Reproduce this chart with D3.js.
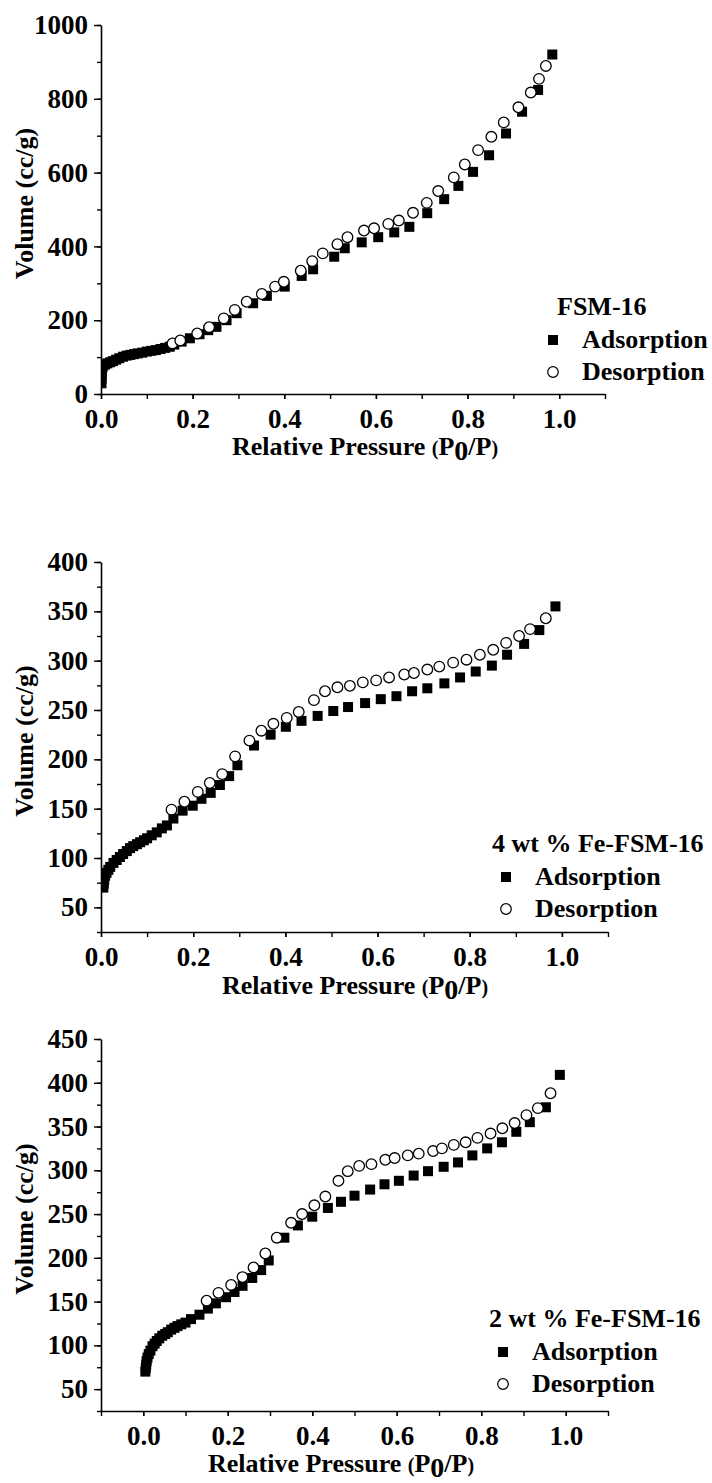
<!DOCTYPE html>
<html><head><meta charset="utf-8">
<script src="https://cdn.jsdelivr.net/npm/d3@7"></script>
<style>
body{margin:0;background:#fff}
text{font-family:"Liberation Serif","Times New Roman",serif;font-weight:bold;fill:#000}
</style>
</head><body>
<svg id="chart" width="712" height="1483"></svg>
<script>
// ---------- data ----------
const sampleNames = ["FSM-16", "4 wt % Fe-FSM-16", "2 wt % Fe-FSM-16"];
const seriesNames = ["Adsorption", "Desorption"];

const fsm16Ads = [[0.001,29],[0.0013,40],[0.0016,52],[0.002,63],[0.003,72],[0.005,77],[0.009,80],[0.014,83],[0.02,86],[0.026,89],[0.033,93],[0.04,97],[0.048,101],[0.056,104],[0.064,106],[0.072,108],[0.08,110],[0.09,112],[0.1,115],[0.11,117],[0.12,119],[0.13,122],[0.14,125],[0.15,128],[0.16,134],[0.176,142],[0.194,151],[0.215,162],[0.234,173],[0.252,182],[0.274,200],[0.296,219],[0.332,246],[0.362,266],[0.401,291],[0.438,320],[0.463,338],[0.509,372],[0.532,395],[0.569,411],[0.605,425],[0.640,438],[0.673,453],[0.712,490],[0.749,528],[0.780,564],[0.812,602],[0.847,647],[0.884,706],[0.919,765],[0.954,824],[0.985,920]];
const fsm16Des = [[0.156,137],[0.173,145],[0.210,164],[0.236,181],[0.268,205],[0.292,228],[0.318,250],[0.351,271],[0.380,291],[0.399,304],[0.436,334],[0.461,360],[0.484,381],[0.516,406],[0.538,425],[0.574,443],[0.596,449],[0.627,461],[0.650,470],[0.681,491],[0.711,518],[0.736,550],[0.770,587],[0.794,622],[0.823,661],[0.852,697],[0.879,736],[0.911,777],[0.938,817],[0.956,854],[0.971,889]];

const fe4Ads = [[0.005,70],[0.006,74],[0.007,78],[0.009,82],[0.012,85],[0.016,88],[0.02,91],[0.027,95],[0.034,98],[0.041,101],[0.048,104],[0.056,107],[0.063,110],[0.07,112],[0.078,114],[0.085,116],[0.093,118],[0.1,120],[0.11,123],[0.121,126],[0.132,130],[0.143,133],[0.157,140],[0.177,148],[0.199,153],[0.218,160],[0.238,166],[0.258,174],[0.278,183],[0.296,194],[0.332,214],[0.368,225],[0.401,233],[0.435,239],[0.470,244],[0.504,249],[0.536,253],[0.573,257],[0.607,261],[0.641,264],[0.675,269],[0.708,272],[0.745,277],[0.779,283],[0.813,289],[0.848,295],[0.881,306],[0.918,317],[0.951,331],[0.986,355]];
const fe4Des = [[0.153,149],[0.181,157],[0.210,167],[0.236,176],[0.263,185],[0.291,203],[0.322,219],[0.348,229],[0.374,236],[0.403,242],[0.429,248],[0.462,260],[0.486,269],[0.513,273],[0.540,274.5],[0.568,278],[0.597,280],[0.625,283],[0.658,286],[0.679,287.5],[0.708,291],[0.734,294],[0.764,298],[0.793,301],[0.822,306],[0.851,311],[0.879,318],[0.907,325],[0.931,332],[0.965,343]];

const fe2Ads = [[0.005,70],[0.006,74],[0.007,78],[0.008,82],[0.01,86],[0.013,90],[0.017,94],[0.022,99],[0.027,102],[0.032,105],[0.038,108],[0.045,111],[0.052,113],[0.058,115],[0.066,118],[0.074,120],[0.081,122],[0.09,124],[0.1,126],[0.113,130],[0.133,135],[0.153,142],[0.172,148],[0.196,155],[0.216,161],[0.235,168],[0.258,177],[0.279,186],[0.297,197],[0.334,223],[0.366,237],[0.400,247],[0.437,257],[0.468,264],[0.500,271],[0.537,278],[0.571,284],[0.605,288],[0.640,294],[0.674,299],[0.711,304],[0.745,309],[0.779,317],[0.814,325],[0.849,332],[0.883,344],[0.915,355],[0.953,372],[0.986,409]];
const fe2Des = [[0.150,151],[0.178,160],[0.208,169],[0.235,178],[0.261,189],[0.289,205],[0.316,223],[0.350,240],[0.376,250],[0.405,260],[0.431,270],[0.462,288],[0.484,299],[0.511,305],[0.540,307],[0.573,312],[0.595,314],[0.626,317],[0.652,319],[0.686,322],[0.707,325],[0.735,329],[0.763,332],[0.791,337],[0.822,342],[0.850,348],[0.879,354],[0.907,363],[0.934,371],[0.964,388]];

// ticks
const xMajor = [0, 0.2, 0.4, 0.6, 0.8, 1.0];
const xMinorA = [0, 0.1, 0.2, 0.3, 0.4, 0.5, 0.6, 0.7, 0.8, 0.9, 1.0, 1.1];
const xMinorC = [-0.1, 0, 0.1, 0.2, 0.3, 0.4, 0.5, 0.6, 0.7, 0.8, 0.9, 1.0, 1.1];
const yMajor1 = [0, 200, 400, 600, 800, 1000];
const yMinor1 = [0, 100, 200, 300, 400, 500, 600, 700, 800, 900, 1000];
const yMajor2 = [50, 100, 150, 200, 250, 300, 350, 400];
const yMinor2 = [25, 50, 75, 100, 125, 150, 175, 200, 225, 250, 275, 300, 325, 350, 375, 400];
const yMajor3 = [50, 100, 150, 200, 250, 300, 350, 400, 450];
const yMinor3 = [25, 50, 75, 100, 125, 150, 175, 200, 225, 250, 275, 300, 325, 350, 375, 400, 425, 450];

const xTitle = "Relative Pressure ";
const yTitle = "Volume (cc/g)";

// ---------- layout ----------
const panels = [
  {name: sampleNames[0], ads: fsm16Ads, des: fsm16Des, xd: [0, 1.1], xr: [101, 605], yd: [0, 1000], yr: [394, 25],
   xMaj: xMajor, xMin: xMinorA, yMaj: yMajor1, yMin: yMinor1, titleX: 232, titleDy: 61,
   leg: {x: 553, y: 315}},
  {name: sampleNames[1], ads: fe4Ads, des: fe4Des, xd: [0, 1.1], xr: [101, 608], yd: [25, 400], yr: [932, 562],
   xMaj: xMajor, xMin: xMinorA, yMaj: yMajor2, yMin: yMinor2, titleX: 222, titleDy: 62,
   leg: {x: 506, y: 852}},
  {name: sampleNames[2], ads: fe2Ads, des: fe2Des, xd: [-0.1, 1.1], xr: [101, 608], yd: [25, 450], yr: [1411, 1039],
   xMaj: xMajor, xMin: xMinorC, yMaj: yMajor3, yMin: yMinor3, titleX: 208, titleDy: 61,
   leg: {x: 503, y: 1327}}
];

const FS = 26;
const TFS = 27;
const svg = d3.select("#chart");
const fmtX = d3.format(".1f");

panels.forEach((p, i) => {
  const x = d3.scaleLinear().domain(p.xd).range(p.xr);
  const y = d3.scaleLinear().domain(p.yd).range(p.yr);
  const g = svg.append("g");

  const cid = "clip" + i;
  svg.append("clipPath").attr("id", cid).append("rect")
    .attr("x", p.xr[0]).attr("y", p.yr[1] - 10)
    .attr("width", p.xr[1] - p.xr[0]).attr("height", p.yr[0] - p.yr[1] + 10);

  const plot = g.append("g").attr("clip-path", `url(#${cid})`);

  const s = 10;
  plot.selectAll("rect.ads").data(p.ads).join("rect")
    .attr("class", "ads")
    .attr("x", d => x(d[0]) - s / 2).attr("y", d => y(d[1]) - s / 2)
    .attr("width", s).attr("height", s).attr("fill", "#000");
  plot.selectAll("circle.des").data(p.des).join("circle")
    .attr("class", "des")
    .attr("cx", d => x(d[0])).attr("cy", d => y(d[1])).attr("r", 5.3)
    .attr("fill", "#fff").attr("stroke", "#000").attr("stroke-width", 1.3);

  const axStyle = sel => {
    sel.select(".domain").attr("stroke", "#000").attr("stroke-width", 1.6);
    sel.selectAll(".tick line").attr("stroke", "#000").attr("stroke-width", 1.4);
    sel.selectAll("text").attr("font-size", TFS).style("font-family", '"Liberation Serif",serif').style("font-weight", "bold").attr("fill", "#000");
  };
  const xb = p.yr[0];
  g.append("g").attr("transform", `translate(0,${xb})`)
    .call(d3.axisBottom(x).tickValues(p.xMin).tickSize(5).tickFormat("").tickSizeOuter(0))
    .call(axStyle);
  g.append("g").attr("transform", `translate(0,${xb})`)
    .call(d3.axisBottom(x).tickValues(p.xMaj).tickSize(5).tickPadding(10).tickFormat(fmtX).tickSizeOuter(0))
    .call(axStyle).call(sel => sel.select(".domain").remove());

  g.append("g").attr("transform", `translate(${p.xr[0]},0)`)
    .call(d3.axisLeft(y).tickValues(p.yMin).tickSize(4).tickFormat("").tickSizeOuter(0))
    .call(axStyle);
  g.append("g").attr("transform", `translate(${p.xr[0]},0)`)
    .call(d3.axisLeft(y).tickValues(p.yMaj).tickSize(7).tickPadding(6).tickFormat(d3.format("d")).tickSizeOuter(0))
    .call(axStyle).call(sel => sel.select(".domain").remove());

  const t = g.append("text").attr("x", p.titleX).attr("y", xb + p.titleDy).attr("font-size", FS);
  t.append("tspan").text(xTitle);
  t.append("tspan").attr("font-size", 20).text("(");
  t.append("tspan").text("P");
  t.append("tspan").attr("font-size", 28).attr("dy", 5).text("0");
  t.append("tspan").attr("dy", -5).text("/P");
  t.append("tspan").attr("font-size", 20).text(")");

  const ymid = (p.yr[0] + p.yr[1]) / 2 - 6;
  g.append("text").attr("transform", `translate(33,${ymid}) rotate(-90)`)
    .attr("text-anchor", "middle").attr("font-size", FS).text(yTitle);

  const L = p.leg;
  g.append("text").attr("x", p.name === sampleNames[0] ? L.x + 4 : L.x - 14).attr("y", L.y)
    .attr("font-size", FS).text(p.name);
  g.append("rect").attr("x", L.x - 5).attr("y", L.y + 25 - 5).attr("width", 10).attr("height", 10).attr("fill", "#000");
  g.append("text").attr("x", L.x + 29).attr("y", L.y + 33).attr("font-size", FS).text(seriesNames[0]);
  g.append("circle").attr("cx", L.x).attr("cy", L.y + 57).attr("r", 5.3)
    .attr("fill", "#fff").attr("stroke", "#000").attr("stroke-width", 1.2);
  g.append("text").attr("x", L.x + 29).attr("y", L.y + 65).attr("font-size", FS).text(seriesNames[1]);
});
</script>
</body></html>
